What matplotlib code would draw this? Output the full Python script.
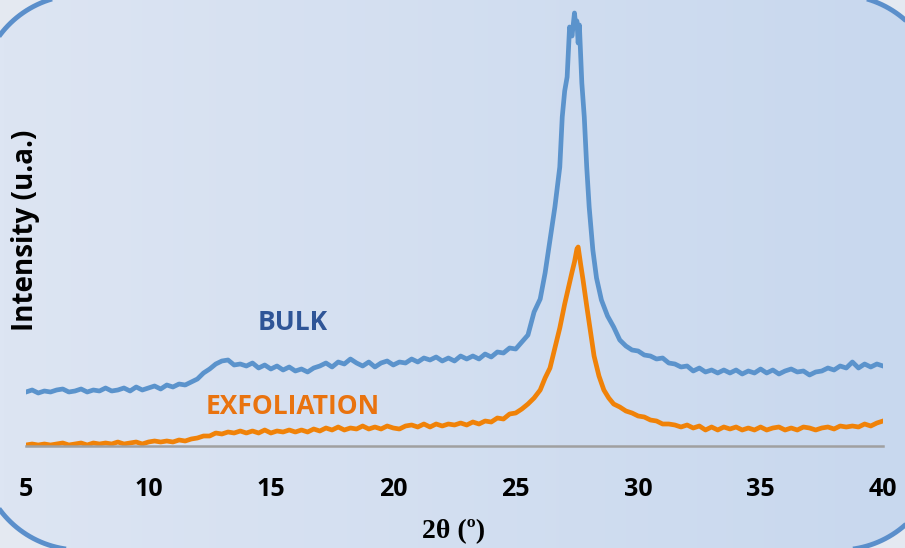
import matplotlib

matplotlib.use("Agg")

import matplotlib.pyplot as plt
import numpy as np
from matplotlib.patches import Polygon

# diffractogram values (2theta in degrees, intensity in a.u.)
bulk_x = [5.0, 5.25, 5.5, 5.75, 6.0, 6.25, 6.5, 6.75, 7.0, 7.25, 7.5, 7.75, 8.0, 8.25, 8.5, 8.75,
          9.0, 9.25, 9.5, 9.75, 10.0, 10.25, 10.5, 10.75, 11.0, 11.25, 11.5, 11.75, 12.0, 12.25,
          12.5, 12.75, 13.0, 13.25, 13.5, 13.75, 14.0, 14.25, 14.5, 14.75, 15.0, 15.25, 15.5,
          15.75, 16.0, 16.25, 16.5, 16.75, 17.0, 17.25, 17.5, 17.75, 18.0, 18.25, 18.5, 18.75,
          19.0, 19.25, 19.5, 19.75, 20.0, 20.25, 20.5, 20.75, 21.0, 21.25, 21.5, 21.75, 22.0,
          22.25, 22.5, 22.75, 23.0, 23.25, 23.5, 23.75, 24.0, 24.25, 24.5, 24.75, 25.0, 25.25,
          25.5, 25.75, 26.0, 26.2, 26.4, 26.6, 26.8, 26.9, 27.0, 27.1, 27.2, 27.3, 27.4, 27.45,
          27.5, 27.55, 27.6, 27.7, 27.8, 27.9, 28.0, 28.15, 28.3, 28.5, 28.75, 29.0, 29.25, 29.5,
          29.75, 30.0, 30.25, 30.5, 30.75, 31.0, 31.25, 31.5, 31.75, 32.0, 32.25, 32.5, 32.75,
          33.0, 33.25, 33.5, 33.75, 34.0, 34.25, 34.5, 34.75, 35.0, 35.25, 35.5, 35.75, 36.0,
          36.25, 36.5, 36.75, 37.0, 37.25, 37.5, 37.75, 38.0, 38.25, 38.5, 38.75, 39.0, 39.25,
          39.5, 39.75, 40.0]
bulk_y = [54, 56, 53, 55, 54, 56, 57, 54, 55, 57, 54, 56, 55, 58, 55, 56,
          58, 55, 59, 56, 58, 60, 57, 61, 59, 62, 61, 64, 67, 73,
          77, 82, 85, 86, 81, 82, 80, 83, 78, 81, 77, 80, 76,
          79, 75, 77, 74, 78, 80, 83, 79, 84, 82, 87, 83, 80,
          84, 79, 83, 85, 81, 84, 83, 87, 84, 88, 86, 89, 85,
          88, 85, 90, 87, 90, 87, 92, 89, 94, 93, 98, 97, 104,
          111, 134, 147, 173, 206, 239, 279, 329, 355, 369, 419, 410, 433, 420,
          425, 403, 421, 363, 329, 279, 239, 196, 168, 146, 130, 119, 106, 100,
          96, 95, 91, 90, 87, 88, 83, 82, 79, 80, 75, 78, 74,
          76, 73, 76, 73, 76, 72, 75, 73, 77, 73, 76, 72, 75,
          77, 74, 75, 71, 74, 75, 78, 76, 80, 78, 84, 78, 82,
          79, 82, 80]

exfo_x = [5.0, 5.25, 5.5, 5.75, 6.0, 6.25, 6.5, 6.75, 7.0, 7.25, 7.5, 7.75, 8.0, 8.25, 8.5, 8.75,
          9.0, 9.25, 9.5, 9.75, 10.0, 10.25, 10.5, 10.75, 11.0, 11.25, 11.5, 11.75, 12.0, 12.25,
          12.5, 12.75, 13.0, 13.25, 13.5, 13.75, 14.0, 14.25, 14.5, 14.75, 15.0, 15.25, 15.5,
          15.75, 16.0, 16.25, 16.5, 16.75, 17.0, 17.25, 17.5, 17.75, 18.0, 18.25, 18.5, 18.75,
          19.0, 19.25, 19.5, 19.75, 20.0, 20.25, 20.5, 20.75, 21.0, 21.25, 21.5, 21.75, 22.0,
          22.25, 22.5, 22.75, 23.0, 23.25, 23.5, 23.75, 24.0, 24.25, 24.5, 24.75, 25.0, 25.25,
          25.5, 25.75, 26.0, 26.2, 26.4, 26.6, 26.8, 27.0, 27.15, 27.3, 27.4, 27.5, 27.55, 27.65,
          27.75, 27.9, 28.05, 28.2, 28.4, 28.6, 28.8, 29.0, 29.25, 29.5, 29.75, 30.0, 30.25, 30.5,
          30.75, 31.0, 31.25, 31.5, 31.75, 32.0, 32.25, 32.5, 32.75, 33.0, 33.25, 33.5, 33.75,
          34.0, 34.25, 34.5, 34.75, 35.0, 35.25, 35.5, 35.75, 36.0, 36.25, 36.5, 36.75, 37.0,
          37.25, 37.5, 37.75, 38.0, 38.25, 38.5, 38.75, 39.0, 39.25, 39.5, 39.75, 40.0]
exfo_y = [1, 2, 1, 2, 1, 2, 3, 1, 2, 3, 1, 3, 2, 3, 2, 4,
          2, 3, 4, 2, 4, 5, 4, 5, 4, 6, 5, 7, 8, 10,
          10, 13, 12, 14, 13, 15, 13, 15, 13, 16, 13, 15, 14,
          16, 14, 16, 14, 17, 15, 18, 16, 19, 16, 18, 17, 20,
          17, 19, 17, 20, 18, 17, 20, 21, 19, 22, 19, 22, 20,
          22, 21, 23, 21, 24, 22, 25, 24, 28, 27, 32, 33, 37,
          42, 48, 56, 68, 78, 98, 118, 142, 158, 174, 184, 197, 199, 182,
          166, 140, 115, 90, 70, 56, 48, 42, 39, 35, 33, 30, 29, 26,
          25, 22, 22, 21, 19, 21, 18, 20, 16, 19, 16, 19, 17,
          19, 16, 18, 16, 19, 16, 18, 19, 16, 18, 16, 19, 18,
          16, 18, 19, 17, 20, 19, 20, 19, 22, 20, 23, 25]

x_ticks = [5, 10, 15, 20, 25, 30, 35, 40]

W, H = 905, 548


def rounded_rect(x0, y0, x1, y1, r, n=40):
    # corner centres and start angles, going round clockwise in pixel space (y down)
    pts = []
    corners = [(x0 + r, y0 + r, 180), (x1 - r, y0 + r, 270),
               (x1 - r, y1 - r, 0), (x0 + r, y1 - r, 90)]
    for cx, cy, a0 in corners:
        t = np.radians(np.linspace(a0, a0 + 90, n))
        pts.append(np.column_stack([cx + r * np.cos(t), cy + r * np.sin(t)]))
    return np.vstack(pts)


fig = plt.figure(figsize=(W / 100, H / 100), dpi=100)
fig.patch.set_facecolor("#e4e9f1")

# background axes in pixel units: rounded slide frame with a soft gradient
bg = fig.add_axes([0, 0, 1, 1], zorder=-1)
bg.set_xlim(0, W)
bg.set_ylim(H, 0)
bg.axis("off")
grad = np.linspace(0, 1, 256).reshape(1, -1, 1)
left_c = np.array([221, 229, 243]) / 255
right_c = np.array([200, 216, 238]) / 255
img = left_c * (1 - grad) + right_c * grad
im = bg.imshow(img, aspect="auto", extent=[0, W, H, 0])
frame_pts = rounded_rect(-20, -5, 939, 550, 100)
clip = Polygon(frame_pts, closed=True, facecolor="none", edgecolor="none",
               transform=bg.transData)
im.set_clip_path(clip)
bg.add_patch(Polygon(frame_pts, closed=True, facecolor="none", edgecolor="#5b8fcb",
                     linewidth=3.5, clip_on=False))

ax = fig.add_axes([26 / W, 102 / H, 857 / W, 440 / H])
ax.patch.set_alpha(0)
ax.plot(bulk_x, bulk_y, color="#5b93cc", linewidth=3.4, solid_joinstyle="round")
ax.plot(exfo_x, exfo_y, color="#f08208", linewidth=3.4, solid_joinstyle="round")

ax.set_xlim(5, 40)
ax.set_ylim(0, 440)
for s in ["top", "right", "left"]:
    ax.spines[s].set_visible(False)
ax.spines["bottom"].set_color("#a0a0a0")
ax.spines["bottom"].set_linewidth(1.8)
ax.set_yticks([])
ax.set_xticks(x_ticks)
ax.set_xticklabels([str(t) for t in x_ticks], fontfamily="Open Sans", fontweight="bold",
                   fontsize=18)
ax.tick_params(axis="x", length=0, pad=22)

ax.text(15.9, 123, "BULK", color="#2f5597", fontfamily="Open Sans", fontweight="bold",
        fontsize=19, ha="center", va="center")
ax.text(15.9, 40, "EXFOLIATION", color="#e9730f", fontfamily="Open Sans", fontweight="bold",
        fontsize=19, ha="center", va="center")

fig.text(25 / W, 1 - 230 / H, "Intensity (u.a.)", rotation=90, fontfamily="Open Sans",
         fontweight="bold", fontsize=20, ha="center", va="center")
fig.text(454 / W, 1 - 532 / H, "2θ (º)", fontfamily="Liberation Serif",
         fontweight="bold", fontsize=20, ha="center", va="center")

fig.savefig("out.png", dpi=100, facecolor=fig.get_facecolor())
